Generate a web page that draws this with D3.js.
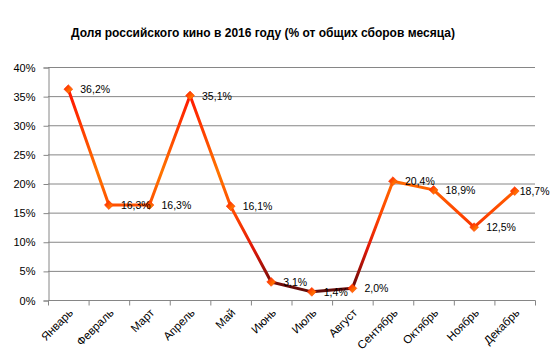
<!DOCTYPE html>
<html>
<head>
<meta charset="utf-8">
<script src="https://cdn.jsdelivr.net/npm/d3@7"></script>
<style>
  body { margin: 0; background: #fff; }
  text { font-family: "Liberation Sans", Arial, sans-serif; }
</style>
</head>
<body>
<div id="chart"></div>
<script>
const months = ["Январь", "Февраль", "Март", "Апрель", "Май", "Июнь", "Июль", "Август", "Сентябрь", "Октябрь", "Ноябрь", "Декабрь"];
const shares = [36.2, 16.3, 16.3, 35.1, 16.1, 3.1, 1.4, 2.0, 20.4, 18.9, 12.5, 18.7];
const yTicks = [0, 5, 10, 15, 20, 25, 30, 35, 40];
const title = "Доля российского кино в 2016 году (% от общих сборов месяца)";

const width = 555, height = 364;
const plotLeft = 48, plotRight = 535, plotTop = 67, plotBottom = 300;

const svg = d3.select("#chart").append("svg")
    .attr("width", width)
    .attr("height", height);

const x = d3.scaleBand().domain(months).range([plotLeft, plotRight]);
const y = d3.scaleLinear().domain([0, 40]).range([plotBottom, plotTop]);

const defs = svg.append("defs");
// vertical colour ramp of the line, as in the original
const grad = defs.append("linearGradient")
    .attr("id", "lineGrad")
    .attr("gradientUnits", "userSpaceOnUse")
    .attr("x1", 0).attr("x2", 0)
    .attr("y1", y(0)).attr("y2", y(40));
[[0, "#4a0c0c"], [0.08, "#7a0c08"], [0.22, "#e01808"], [0.36, "#ff4400"], [0.55, "#ff7400"], [0.72, "#ff4000"], [0.86, "#ff1c00"], [1, "#ff1000"]]
    .forEach(s => grad.append("stop").attr("offset", s[0]).attr("stop-color", s[1]));

const mGrad = defs.append("linearGradient")
    .attr("id", "markGrad")
    .attr("x1", 0).attr("y1", 0).attr("x2", 1).attr("y2", 1);
mGrad.append("stop").attr("offset", 0).attr("stop-color", "#ff1400");
mGrad.append("stop").attr("offset", 1).attr("stop-color", "#ffa000");

svg.append("text")
    .attr("x", 263).attr("y", 37)
    .attr("text-anchor", "middle")
    .attr("font-size", "12px")
    .attr("font-weight", "bold")
    .text(title);

// gridlines
svg.append("g").selectAll("line")
    .data(yTicks.slice(1))
    .join("line")
    .attr("x1", plotLeft).attr("x2", plotRight)
    .attr("y1", d => y(d) + 0.5).attr("y2", d => y(d) + 0.5)
    .attr("stroke", "#868686");

const yAxis = svg.append("g")
    .attr("transform", `translate(${plotLeft + 0.5},0.5)`)
    .call(d3.axisLeft(y).tickValues(yTicks).tickSize(5).tickPadding(8).tickFormat(d => d + "%"));
yAxis.select(".domain").attr("stroke", "#868686");
yAxis.selectAll(".tick line").attr("stroke", "#868686");
yAxis.selectAll("text").attr("font-size", "11px").attr("fill", "#000")
    .attr("font-family", "Liberation Sans, Arial, sans-serif");

const xAxis = svg.append("g")
    .attr("transform", `translate(0.5,${plotBottom + 0.5})`);
xAxis.append("line")
    .attr("x1", plotLeft).attr("x2", plotRight)
    .attr("stroke", "#868686");
xAxis.selectAll(".tk")
    .data(d3.range(months.length + 1))
    .join("line")
    .attr("x1", i => plotLeft + i * x.bandwidth())
    .attr("x2", i => plotLeft + i * x.bandwidth())
    .attr("y1", 0).attr("y2", 5)
    .attr("stroke", "#868686");
xAxis.selectAll(".lbl")
    .data(months)
    .join("text")
    .attr("transform", d => `translate(${x(d) + x.bandwidth() / 2 + 5},${13}) rotate(-45)`)
    .attr("text-anchor", "end")
    .attr("font-size", "11.5px")
    .attr("fill", "#000")
    .text(d => d);

const cx = d => x(d) + x.bandwidth() / 2;

const line = d3.line()
    .x((d, i) => cx(months[i]))
    .y(d => y(d));

svg.append("path")
    .datum(shares)
    .attr("fill", "none")
    .attr("stroke", "url(#lineGrad)")
    .attr("stroke-width", 3)
    .attr("stroke-linejoin", "round")
    .attr("d", line);

svg.append("g").selectAll("path")
    .data(shares)
    .join("path")
    .attr("d", d3.symbol(d3.symbolDiamond2, 50))
    .attr("transform", (d, i) => `translate(${cx(months[i])},${y(d)})`)
    .attr("fill", "url(#markGrad)")
    .attr("stroke", "#ff3000")
    .attr("stroke-width", 0.6);

// last label is pulled in so it fits inside the chart
svg.append("g").selectAll("text")
    .data(shares)
    .join("text")
    .attr("x", (d, i) => cx(months[i]) + (i === shares.length - 1 ? 5 : 12))
    .attr("y", d => y(d) + 4)
    .attr("font-size", "10.5px")
    .attr("fill", "#000")
    .text(d => d.toFixed(1).replace(".", ",") + "%");
</script>
</body>
</html>
